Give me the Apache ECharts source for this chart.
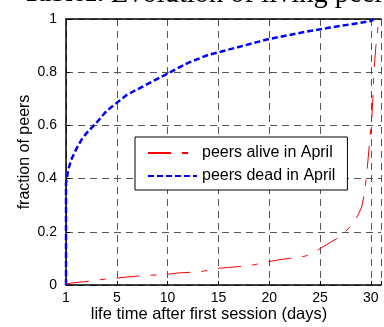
<!DOCTYPE html>
<html>
<head>
<meta charset="utf-8">
<script src="https://cdn.jsdelivr.net/npm/echarts@6/dist/echarts.min.js"></script>
<style>
  html, body { margin: 0; padding: 0; background: #fff; }
  #chart { width: 384px; height: 327px; }
</style>
</head>
<body>
<div id="chart"></div>
<script>
// day offset from first session (tick 0 is labelled "1")
const xTicks = ['1', '5', '10', '15', '20', '25', '30']
const yTicks = ['0', '0.2', '0.4', '0.6', '0.8', '1']

// peers dead in April
const deadDays = [0, 0, 0.2, 0.5, 1, 1.5, 2, 3, 4, 5, 6, 7, 8, 9, 10, 11, 12, 13, 14, 15, 16, 17, 18, 19, 20, 22, 24, 26, 28, 30, 30.3]
const deadFrac = [0, 0.38, 0.43, 0.47, 0.51, 0.545, 0.57, 0.61, 0.655, 0.685, 0.715, 0.735, 0.755, 0.775, 0.795, 0.815, 0.835, 0.85, 0.865, 0.875, 0.885, 0.895, 0.905, 0.915, 0.925, 0.94, 0.955, 0.968, 0.98, 0.992, 1]

// peers alive in April
const aliveDays = [0, 0.7, 1.7, 3, 4, 5, 6, 7.5, 9, 9.9, 11, 13.1, 14, 15.1, 16, 18, 19, 20, 21, 22, 23.6, 24.5, 25.1, 26, 26.9, 27.5, 28.1, 28.7, 29.1, 29.4, 29.6, 29.9, 30.1, 30.2, 30.3, 30.5, 30.8]
const aliveFrac = [0.004, 0.008, 0.012, 0.018, 0.023, 0.026, 0.03, 0.035, 0.038, 0.04, 0.045, 0.05, 0.055, 0.063, 0.066, 0.072, 0.08, 0.088, 0.095, 0.1, 0.109, 0.125, 0.139, 0.16, 0.18, 0.2, 0.225, 0.26, 0.293, 0.35, 0.42, 0.545, 0.63, 0.7, 0.8, 0.9, 1.0]

const zip = (a, b) => a.map((v, i) => [v, b[i]])

const gridLine = { show: true, lineStyle: { color: '#555', type: [7, 5], width: 1 } }
const font = 'Liberation Sans, Arial, sans-serif'

const chart = echarts.init(document.getElementById('chart'))
chart.setOption({
  animation: false,
  grid: { left: 66, right: 0, top: 19, bottom: 42 },
  graphic: [
    {
      type: 'text', x: 23, y: 9,
      style: {
        text: '{b|Table1.} Evolution of living peers',
        font: '28.5px "Liberation Serif", serif',
        fill: '#000',
        verticalAlign: 'bottom',
        rich: { b: { font: 'bold 26px "Liberation Serif", serif', fill: '#000' } }
      }
    },
    {
      type: 'text', x: 209, y: 314,
      style: {
        text: 'life time after first session (days)', font: '16.5px ' + font, fill: '#000',
        align: 'center', verticalAlign: 'middle'
      }
    }
  ],
  legend: {
    orient: 'vertical',
    left: 135, top: 137,
    padding: [8, 12, 6, 12],
    itemGap: 7,
    itemWidth: 49,
    itemHeight: 14,
    backgroundColor: '#fff',
    borderColor: '#000',
    borderWidth: 1,
    borderRadius: 0,
    itemStyle: { opacity: 0 },
    textStyle: { fontFamily: font, fontSize: 16, color: '#000' },
    data: ['peers alive in April', 'peers dead in April']
  },
  xAxis: [
    {
      type: 'value', min: 0, max: 31, interval: 5,
      axisLine: { show: true, onZero: false, lineStyle: { color: '#000', width: 1.5 } },
      axisTick: { show: true, inside: true, length: 4, lineStyle: { color: '#000' } },
      axisLabel: {
        color: '#000', fontFamily: font, fontSize: 14, margin: 6,
        formatter: v => (v % 5 === 0 ? xTicks[v / 5] : '')
      },
      splitLine: gridLine
    },
    {
      type: 'value', position: 'top', min: 0, max: 31, interval: 5,
      axisLine: { show: true, onZero: false, lineStyle: { color: '#000', width: 1.5 } },
      axisTick: { show: false }, axisLabel: { show: false }, splitLine: { show: false }
    }
  ],
  yAxis: {
    type: 'value', min: 0, max: 1, interval: 0.2,
    name: 'fraction of peers', nameLocation: 'middle', nameGap: 33, nameMoveOverlap: false,
    nameTextStyle: { color: '#000', fontFamily: font, fontSize: 16 },
    axisLine: { show: true, lineStyle: { color: '#000', width: 1.5 } },
    axisTick: { show: true, inside: true, length: 4, lineStyle: { color: '#000' } },
    axisLabel: {
      color: '#000', fontFamily: font, fontSize: 14, margin: 9,
      formatter: v => yTicks[Math.round(v * 5)]
    },
    splitLine: gridLine
  },
  series: [
    {
      name: 'peers alive in April', type: 'line', symbol: 'none', z: 3,
      data: zip(aliveDays, aliveFrac),
      lineStyle: { color: '#ff0000', width: 1, type: [23, 11, 6, 11] },
      itemStyle: { color: '#ff0000' }
    },
    {
      name: 'peers dead in April', type: 'line', symbol: 'none', z: 4,
      data: zip(deadDays, deadFrac),
      lineStyle: { color: '#0000ff', width: 2.5, type: [6, 3] },
      itemStyle: { color: '#0000ff' }
    }
  ]
})
</script>
</body>
</html>
